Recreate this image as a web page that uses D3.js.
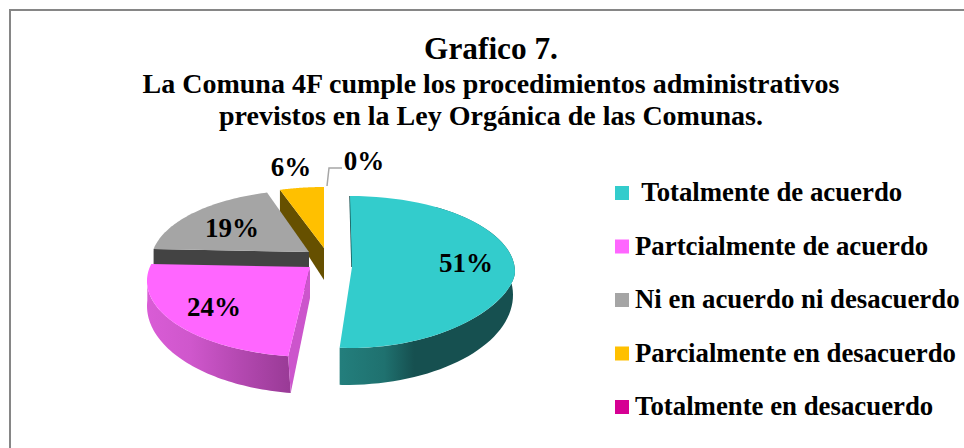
<!DOCTYPE html>
<html><head><meta charset="utf-8">
<script src="https://cdn.jsdelivr.net/npm/d3@7/dist/d3.min.js"></script>
<style>html,body{margin:0;padding:0;background:#fff;overflow:hidden}
text{font-family:"Liberation Serif",serif;font-weight:bold;fill:#000}</style></head>
<body><svg id="c" width="964" height="448"></svg>
<script>
const categories=[" Totalmente de acuerdo","Partcialmente de acuerdo","Ni en acuerdo ni desacuerdo","Parcialmente en desacuerdo","Totalmente en desacuerdo"];
const values=[51,24,19,6,0];
const colors=["#33cccc","#ff66ff","#a5a5a5","#ffc000","#d60093"];
const titleLines=["Grafico 7.","La Comuna 4F cumple los procedimientos administrativos","previstos en la Ley Orgánica de las Comunas."];
// projection of each exploded wedge: wedge tip, top ellipse, lower ellipse, angle warp (degrees at start / end)
const tips=[[352,267],[310,267],[309,252],[324,248]];
const topEll=[[350,272,165,76],[313,281,166,76],[309,262,158,72],[324,258,158,71]];
const lowEll=[[345,295,168,90],[316,306,169,88],[309,300,158,72],[324,280,158,71]];
const warp=[[0,0],[5,13],[10.4,6.2],[5.4,0]];
const tipDepth=[38,31,38,32];
const lowPow=[1.2,1,1,1];
const svg=d3.select("#c");
const defs=svg.append("defs");
function grad(id,x1,x2,stops){const g=defs.append("linearGradient").attr("id",id).attr("gradientUnits","userSpaceOnUse").attr("x1",x1).attr("x2",x2).attr("y1",0).attr("y2",0);
 stops.forEach(([o,c])=>g.append("stop").attr("offset",o).attr("stop-color",c));}
grad("gc",341,515,[[0,"#237e7c"],[.25,"#1f716f"],[.42,"#165050"],[1,"#165050"]]);
grad("gm",147,292,[[0,"#d95cd6"],[.3,"#cf57cc"],[.65,"#b348b0"],[1,"#983a95"]]);
svg.append("rect").attr("x",10).attr("y",10).attr("width",1000).attr("height",600).attr("fill","#fff").attr("stroke","#868686").attr("stroke-width",2);
const tSizes=[31.3,28,28],tY=[59,93,125];
svg.selectAll(".t").data(titleLines).join("text").attr("x",491).attr("y",(d,i)=>tY[i]).attr("text-anchor","middle").attr("font-size",(d,i)=>tSizes[i]).text(d=>d);
const arcs=d3.pie().sort(null).value(d=>d)(values);
const line=d3.line();
const rad=Math.PI/180;
function ell(e,t,p){const v=-Math.cos(t);const vv=p&&v>0?Math.pow(v,p):v;return [e[0]+e[2]*Math.sin(t),e[1]+e[3]*vv];}
function tAngle(i,f){const a=arcs[i];return a.startAngle+(a.endAngle-a.startAngle)*f+(warp[i][0]+(warp[i][1]-warp[i][0])*f)*rad;}
function curve(i,e,f0,f1,p){return d3.range(61).map(k=>ell(e,tAngle(i,f0+(f1-f0)*k/60),p));}
const down=(q,d)=>[q[0],q[1]+d];
const layer=svg.append("g");
function poly(pts,fill){layer.append("path").attr("d",line(pts)+"Z").attr("fill",fill);}
[3,2,1,0].forEach(i=>{
 const tip=tips[i],d=tipDepth[i],R=curve(i,topEll[i],0,1,lowPow[i]);
 if(i===3){poly([R[0],tip,down(tip,d),down(R[0],22)],"#665000");}
 if(i===2){poly([R[0],tip,down(tip,d),down(R[0],d)],"#434343");}
 if(i===1){
  const lo=curve(i,lowEll[i],0,0.9,1),up=curve(i,topEll[i],0,0.9,1);
  poly(up.concat(lo.slice().reverse()),"url(#gm)");
  poly([tip,R[0],lo[0],down(tip,d)],"#cc55cc");
 }
 if(i===0){
  const up=curve(i,topEll[i],0.17,1,lowPow[i]);
  const edge=up[up.length-1][0];
  const lo=curve(i,lowEll[i],0.17,1,1).map(q=>[Math.max(q[0],edge),q[1]]);
  poly(up.concat(lo.slice().reverse()),"url(#gc)");
  layer.append("path").attr("d",line([R[0],tip])).attr("stroke","#165050").attr("stroke-width",1.5).attr("fill","none");
 }
 poly([tip].concat(R),colors[i]);
});
svg.append("path").attr("d",line([[327,186],[329,168],[342,168]])).attr("fill","none").attr("stroke","#a6a6a6").attr("stroke-width",1.5);
const labelPos=[[466,272],[214,316],[232,237],[291,176],[364,170]];
svg.selectAll(".l").data(values).join("text").attr("x",(d,i)=>labelPos[i][0]).attr("y",(d,i)=>labelPos[i][1]).attr("text-anchor","middle").attr("font-size",27).text(d=>d+"%");
const ly=d3.scalePoint().domain(categories).range([193,407]);
const lg=svg.append("g").selectAll("g").data(categories).join("g").attr("transform",d=>`translate(615,${ly(d)})`);
lg.append("rect").attr("y",-7).attr("width",14).attr("height",14).attr("fill",(d,i)=>colors[i]);
lg.append("text").attr("x",20).attr("y",8).attr("font-size",26.8).style("white-space","pre").text(d=>d);
</script></body></html>
